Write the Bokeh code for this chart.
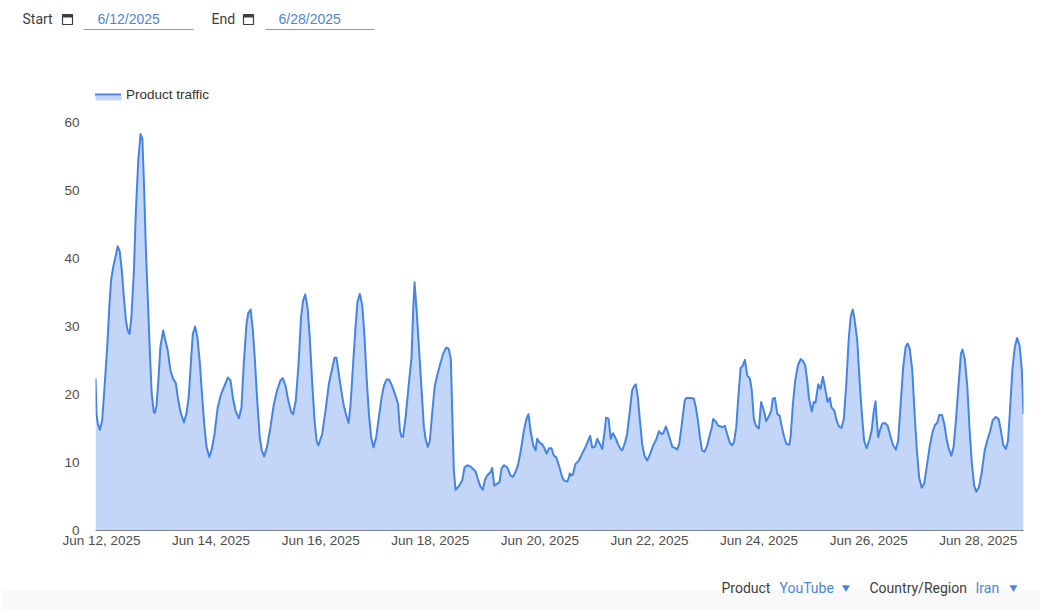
from bokeh.plotting import figure
from bokeh.layouts import column
from bokeh.embed import file_html
from bokeh.resources import INLINE
from bokeh.core.properties import value
from bokeh.models import (ColumnDataSource, Range1d, FixedTicker, DatetimeTickFormatter,
                          BoxAnnotation, Legend, LegendItem)
import numpy as np

SERIES = "Product traffic"
START_DATE = "6/12/2025"
END_DATE = "6/28/2025"
PRODUCT = "YouTube"
REGION = "Iran"
Y_TICKS = [0, 10, 20, 30, 40, 50, 60]
TICK_DAYS = [12, 14, 16, 18, 20, 22, 24, 26, 28]

# hours since Jun 12 2025 00:00
hours_a = [-2.6,-2.2,-1.6,-0.7,0.3,1.3,2.5,3.5,4.2,5.1,6.1,7.1,8.0,8.9,9.8,10.7,11.5,12.3,13.1,14.2,15.0,16.1,17.1,17.9,18.7,19.4,20.3,21.2,22.0,22.9,23.4,24.1,24.9,25.8,27.0,28.0,29.0,30.2,31.4,32.6,33.4,34.6,36.1,37.2,38.2,39.3,40.0,41.0,42.0,43.1,44.1,45.1,46.0,47.2,48.2,49.5,50.9,52.4,53.9,55.3,56.5,57.5,58.7,60.2,61.3,62.3,63.5,64.2,65.3,66.3,67.2,68.2,69.3,70.2,71.2,72.5,74.0,75.5,76.9,78.4,79.4,80.6,81.8,83.1,83.9,85.1,86.3,87.4,88.3,89.2,90.2,91.2,92.3,93.3,94.2,95.0]
traffic_a = [22.3,17.2,15.7,14.8,16.2,21,27,33.3,36.8,38.7,40.2,41.8,41,38.2,34.3,30.9,29.4,28.9,31.4,38.2,46.6,54.4,58.3,57.6,50,41.7,33.8,26,20.1,17.4,17.3,18.4,22,27,29.4,27.9,26.5,23.5,22.3,21.6,19.6,17.4,15.9,17.2,19.6,25.5,28.9,30,28.4,24.5,19.6,15.2,12.3,10.8,11.8,14.2,18.1,20.1,21.3,22.5,22.1,19.6,17.6,16.5,18.1,24.5,30.4,31.9,32.5,29.4,25,19.1,13.7,11.8,10.9,12.3,15.2,18.6,20.6,22.1,22.4,21.3,19.1,17.4,17.1,19.1,24.5,31.4,33.8,34.7,32.9,28.4,21.6,16.2,13.2,12.5]

hours_b = [96.65,98.1,99.6,101.0,102.05,102.9,103.95,105,106.1,107.2,108.2,109.1,110.1,111.25,112.1,113.15,114.2,115.2,116.1,117.1,118.1,119.1,120.3,121.5,122.6,123.7,124.8,126.0,127.2,128.5,129.9,130.7,131.4,132.1,133.2,134.6,135.8,136.5,137.1,138,139,140,141.2,142.1,142.9,143.8,144.8,145.9,147,148.2,149.6,151,152.1,153,153.7,154.3,155.05,156.5,158,159,160.2,161.6,163.8,164.8,166,167,167.9,168.9,170.4,171.1,172,173.3,174.3,175.2,176.2,177.7,179.1,180.2,181.3,182.4,183.5,185,186.1,187,187.9,189.1,190.1,190.8,191.7,192.9]
traffic_b = [14.2,17.6,21.6,23.8,25.4,25.4,23,20.6,18.4,16.9,15.8,18.6,24,29.9,33.6,34.8,33.1,28.4,22.5,17.2,13.7,12.2,13.7,16.7,19.4,21.3,22.2,22.2,21.3,20.1,18.6,14.7,13.8,13.8,16.7,21.6,25.5,32.4,36.5,32.4,27,21.6,15.2,13.2,12.3,13.2,17.2,21.1,22.8,24.3,26,26.9,26.7,25.2,16.2,8.8,6,6.5,7.4,9.3,9.6,9.4,8.7,7.6,6.4,6,7.4,8.1,8.6,9.2,6.6,6.9,7.1,9.1,9.6,9.3,8.1,7.9,8.6,9.6,11.5,14.7,16.4,17.1,14.7,12.5,11.8,13.5,13,12.7]

hours_c = [193.7,194.9,196,197.1,198.1,199.1,200.3,201,201.9,202.8,204,204.7,205.1,205.7,206.4,207.6,209.1,210.5,212,213.5,214,214.9,216.1,217.1,218.3,219.3,220.2,221,222.1,223,224,225,226.2,227.3,228,229.1,230.2,231.4,232.4,233.2,234,234.9,235.8,236.8,237.8,239,240.2,241.6,243.1,244.1,245.1,246,247.2,248.3,250,251.4,252.1,253,254.2,255.4,256.2,258,259.4,260.3,261.2,262.1,263,264.1,265.3,266.5,267.2,267.9,269.1,270.1,271.1,272,273,274,275.1,276.1,277,278,278.9,279.9,280.8,281.8,282.8,284,284.8,285.7,286.6,287.9,288.9,290.1,291.1,292.3,293.3,294.0,294.9,296,297,298.1,299.2,300,301.2]
traffic_c = [12.3,11.3,12.1,12.1,11,10.8,9.6,8.8,7.7,7.3,7.2,7.8,8.4,8.1,8.2,9.8,10.3,11.3,12.3,13.5,13.9,12.2,12.3,13.5,12.7,12,14.2,16.6,16.4,13.5,14.3,13.7,12.7,12,11.8,12.7,14.2,17.6,20.6,21.2,21.5,19.6,16.2,12.7,11,10.3,11.2,12.5,13.5,14.6,14.2,14.3,15.3,14.2,12.3,12.1,11.9,12.7,15.7,19.1,19.5,19.5,19.4,18.1,16.2,13.7,11.8,11.6,12.5,14.2,15,16.4,16,15.4,15.3,15.2,15.4,14.2,13,12.5,13,15.2,19.6,23.9,24.2,25.1,22.8,22.3,20.6,16.4,15.4,15,18.9,17.6,16.1,16.8,17.6,19.4,19.5,17.1,16.9,15,13.5,12.7,12.6]

hours_d = [301.8,302.8,303.8,305,306.2,307.3,308.2,309.1,309.8,310.5,311.1,311.9,312.7,313.9,314.9,315.9,317,318,319,319.7,321,321.9,322.95,324.1,325.1,326.2,327.2,328.1,329,329.8,331,332,333,334,335.1,336.2,337.3,338.1,339,339.4,340.2,340.9,341.9,343.1,344.3,345.4,346.6,347.9,348.9,350,351.1,352.2,353,354,355.1,356.1,357.1,358.1,359.2,360.3,361.6,362.8,364,365,366,366.9,368.1,369.1,370.1,371.1,372.2,373.2,374.2,375.4,376.4,377.1,378.1,379.2,380.2,381.2,382.2,383.1,384.3,385.4,386.8,387.9,389.1,390.3,391.6,392.9,393.9,394.9,396.1,397,397.8,398.9,400,401,402.1,403.1,403.8]
traffic_d = [13.7,18.6,22,24.3,25.2,24.9,24.3,22,19.6,18.4,17.5,18.9,18.8,21.5,20.8,22.6,20.8,18.9,19.5,18.1,17.6,16.2,15.3,15.1,16.4,21.6,27.9,31.4,32.5,31.1,27.9,22.1,17.2,13.2,12.1,13.2,14.7,17.2,19,16.7,13.7,14.7,15.7,15.8,15.4,14,12.6,11.9,13.2,18.6,24,27,27.5,26.7,23.5,17.2,11.8,7.8,6.3,6.9,9.8,12.5,14.5,15.5,15.8,17,17,15.7,13.5,12,11,12.3,16.2,21.6,26,26.6,25.2,21.1,14.7,9.8,6.6,5.7,6.4,8.3,11.8,13.2,14.5,16.2,16.7,16.4,14.7,12.6,12,13.2,17.2,23.5,27,28.3,27.2,23.5,17.1]

hours = hours_a + hours_b + hours_c + hours_d
traffic = traffic_a + traffic_b + traffic_c + traffic_d

BASE = np.datetime64("2025-06-12T00:00:00").astype("datetime64[ms]").astype(np.int64)
HOUR = 3600000.0
x = [float(BASE + h * HOUR) for h in hours]
src = ColumnDataSource(dict(x=x, y=traffic, y0=[0] * len(x)))

LEFT, RIGHT, TOP, BOTTOM = 95, 1023, 40, 530   # frame edges in page pixels
PX_PER_UNIT = 6.8
STRIP_TOP = 565   # page y where the lower control row starts
W, H = 1040, 610

FONT = "Liberation Sans"
UI_FONT = "Roboto"
TICK_COLOR = "#4d4d4d"
BLUE = "#4a86e0"
DARK = "#3c4043"
FILL = "#c3d6f8"
LINE = "#4584e6"

p = figure(width=W, height=STRIP_TOP - TOP, output_backend="svg", toolbar_location=None,
           x_axis_type="datetime",
           x_range=Range1d(float(BASE - 2.63 * HOUR), float(BASE + 403.8 * HOUR)),
           y_range=Range1d(0, (BOTTOM - TOP) / PX_PER_UNIT),
           frame_width=RIGHT - LEFT, frame_height=BOTTOM - TOP,
           min_border_left=LEFT, min_border_right=W - RIGHT,
           min_border_top=0, min_border_bottom=STRIP_TOP - BOTTOM,
           frame_align=False)
p.outline_line_color = None
p.grid.visible = False

p.varea(x="x", y1="y0", y2="y", source=src, fill_color=FILL, fill_alpha=1.0)
line = p.line(x="x", y="y", source=src, line_color=LINE, line_width=2, line_join="round")

xa = p.xaxis[0]
xa.ticker = FixedTicker(ticks=[float(BASE + (d - 12) * 24 * HOUR) for d in TICK_DAYS])
xa.formatter = DatetimeTickFormatter(days="%b %d, %Y", months="%b %d, %Y", hours="%b %d, %Y",
                                     minutes="%b %d, %Y", context=None)
xa.major_tick_line_color = None
xa.minor_tick_line_color = None
xa.axis_line_color = "#808080"
xa.axis_line_width = 1.2
xa.major_label_text_font = FONT
xa.major_label_text_font_size = "13.5px"
xa.major_label_text_color = TICK_COLOR
xa.major_label_standoff = -4

ya = p.yaxis[0]
ya.ticker = FixedTicker(ticks=Y_TICKS)
ya.major_tick_line_color = None
ya.minor_tick_line_color = None
ya.axis_line_color = None
ya.major_label_text_font = FONT
ya.major_label_text_font_size = "13.5px"
ya.major_label_text_color = TICK_COLOR
ya.major_label_standoff = 10

p.add_layout(BoxAnnotation(left=-1, right=26, top=BOTTOM - 95, bottom=BOTTOM - 100,
                           left_units="screen", right_units="screen",
                           top_units="screen", bottom_units="screen",
                           fill_color=FILL, fill_alpha=1.0, line_alpha=0.0, level="underlay"))
legend = Legend(items=[LegendItem(label=SERIES, renderers=[line])],
                location=(-1, BOTTOM - 94 - 8), orientation="vertical",
                border_line_color=None, background_fill_alpha=0.0,
                padding=0, margin=0, glyph_width=27, glyph_height=16, label_height=16,
                label_standoff=5, label_text_font=FONT, label_text_font_size="13.5px",
                label_text_color="#333333", label_text_baseline="middle")
p.add_layout(legend, "center")


def strip(y0, y1):
    """A figure whose data coordinates are the page's pixels, for the control rows."""
    f = figure(width=W, height=y1 - y0, output_backend="svg", toolbar_location=None,
               x_range=Range1d(0, W), y_range=Range1d(y1, y0),
               min_border=0, x_axis_location=None, y_axis_location=None, frame_align=False)
    f.outline_line_color = None
    f.grid.visible = False
    return f


def put(f, x0, y0, s, color=DARK, font=UI_FONT, size="14px"):
    f.text([x0], [y0], text=[s], text_color=color, text_font=value(font),
           text_font_size=value(size), text_baseline="middle", text_align="left")


def calendar(f, l, t):
    f.quad(left=[l], right=[l + 10], top=[t], bottom=[t + 10], fill_alpha=0.0,
           line_color=DARK, line_width=1.2)
    f.quad(left=[l], right=[l + 10], top=[t], bottom=[t + 3], fill_color=DARK, line_color=None)


head = strip(0, TOP)
put(head, 22, 18, "Start")
calendar(head, 62, 14)
put(head, 97, 18, START_DATE, color=BLUE, font=FONT)
head.line([83, 193], [29, 29], line_color="#9a9a9a", line_width=1)
put(head, 211, 18, "End")
calendar(head, 243, 14)
put(head, 278, 18, END_DATE, color=BLUE, font=FONT)
head.line([265, 374], [29, 29], line_color="#9a9a9a", line_width=1)

foot = strip(STRIP_TOP, H)
foot.quad(left=[0], right=[W], top=[589], bottom=[H], fill_color="#f9f9f9", line_color=None)
put(foot, 721, 587, "Product")
put(foot, 779, 587, PRODUCT, color=BLUE)
foot.scatter([845.5], [587], marker="inverted_triangle", size=8, fill_color=BLUE, line_color=None)
put(foot, 869, 587, "Country/Region")
put(foot, 975, 587, REGION, color=BLUE)
foot.scatter([1013], [587], marker="inverted_triangle", size=8, fill_color=BLUE, line_color=None)

page = column(head, p, foot, spacing=0)
open("out.html", "w").write(file_html(page, INLINE))
